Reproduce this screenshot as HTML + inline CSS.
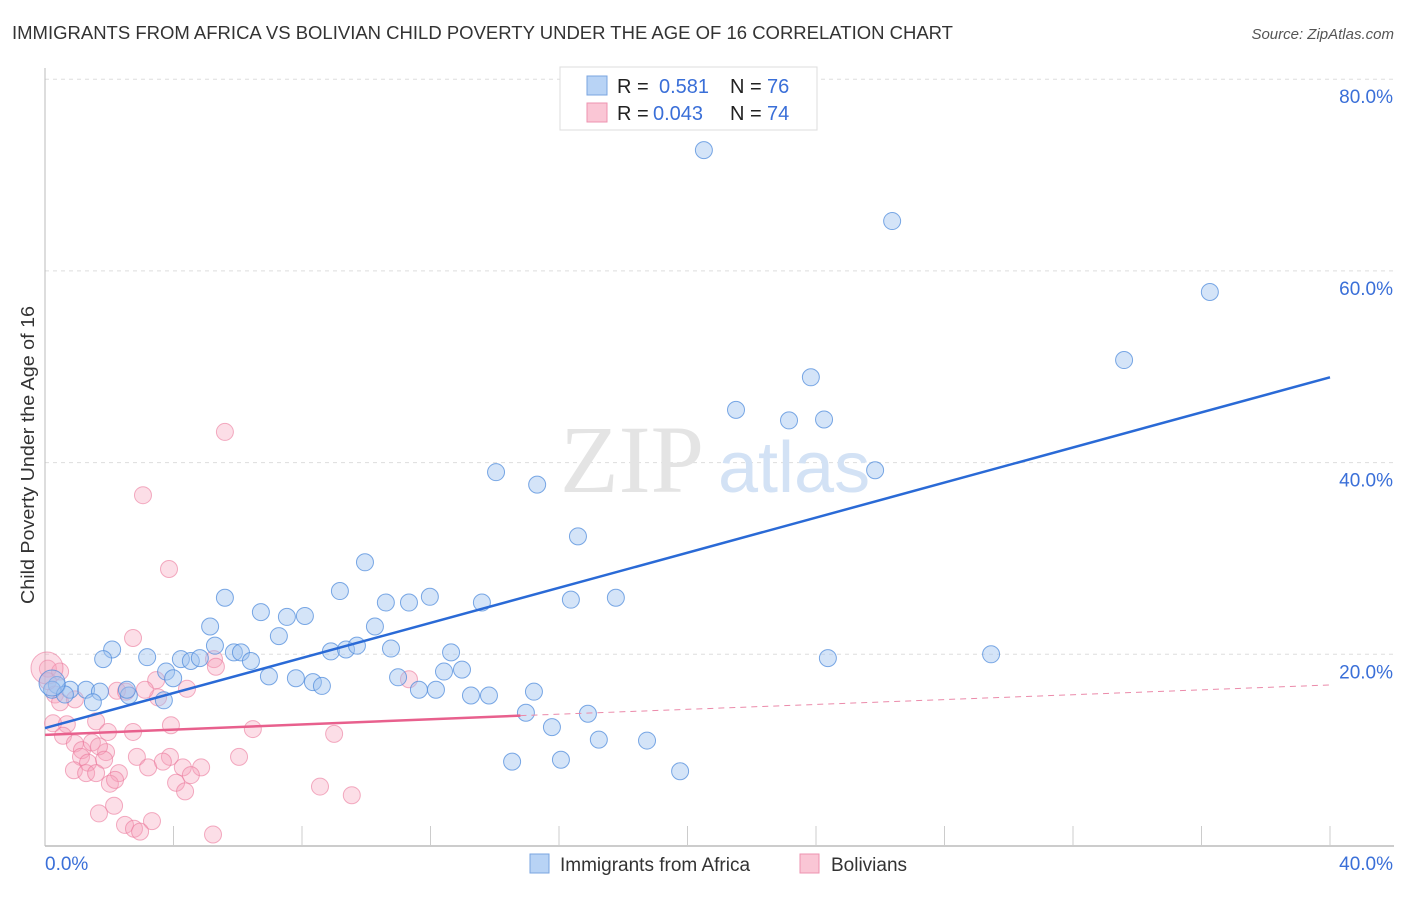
<!DOCTYPE html>
<html><head><meta charset="utf-8"><style>
body{margin:0;background:#fff;font-family:"Liberation Sans",sans-serif;}
svg text{font-family:"Liberation Sans",sans-serif;}
</style></head><body>
<svg id="chart" width="1406" height="892">
<text x="12" y="39" font-size="18" fill="#333" textLength="941" lengthAdjust="spacingAndGlyphs">IMMIGRANTS FROM AFRICA VS BOLIVIAN CHILD POVERTY UNDER THE AGE OF 16 CORRELATION CHART</text>
<text x="1394" y="39" font-size="15" fill="#555" font-style="italic" text-anchor="end">Source: ZipAtlas.com</text>
<text transform="translate(34,455) rotate(-90)" font-size="18" fill="#333" text-anchor="middle" textLength="298" lengthAdjust="spacingAndGlyphs">Child Poverty Under the Age of 16</text>
<g id="grid"></g>
<text x="560" y="492" font-size="96" fill="#e4e4e4" style="font-family:'Liberation Serif',serif">ZIP</text>
<text x="718" y="492" font-size="72" fill="#d3e2f5">atlas</text>
<g id="pts"></g>
<g id="lines"></g>
<g>
<rect x="560" y="67" width="257" height="63" fill="#fff" stroke="#ddd"/>
<rect x="587" y="76" width="20" height="19" fill="#b8d3f5" stroke="#7aa5e0"/>
<rect x="587" y="103" width="20" height="19" fill="#fac6d5" stroke="#ee93b0"/>
<text x="617" y="93" font-size="20" fill="#222">R =</text><text x="659" y="93" font-size="20" fill="#3a6fd8">0.581</text>
<text x="730" y="93" font-size="20" fill="#222">N =</text><text x="767" y="93" font-size="20" fill="#3a6fd8">76</text>
<text x="617" y="120" font-size="20" fill="#222">R =</text><text x="653" y="120" font-size="20" fill="#3a6fd8">0.043</text>
<text x="730" y="120" font-size="20" fill="#222">N =</text><text x="767" y="120" font-size="20" fill="#3a6fd8">74</text>
</g>
<g>
<rect x="530" y="854" width="19" height="19" fill="#b8d3f5" stroke="#7aa5e0"/>
<text x="560" y="871" font-size="19" fill="#333">Immigrants from Africa</text>
<rect x="800" y="854" width="19" height="19" fill="#fac6d5" stroke="#ee93b0"/>
<text x="831" y="871" font-size="19" fill="#333">Bolivians</text>
</g>
</svg>
<script>
const xTickVals=[0,40];
const yTickVals=[20,40,60,80];
const africaX=[20.51,26.37,36.26,33.59,23.84,21.51,23.16,24.25,25.84,14.04,15.32,16.59,9.96,5.6,6.72,9.18,7.53,8.09,10.61,11.33,11.98,13.6,16.37,17.77,5.14,7.28,10.27,5.29,2.09,1.81,3.18,4.23,4.54,4.82,5.88,6.1,6.41,8.9,9.37,9.71,10.77,12.64,12.98,12.42,24.37,29.45,3.77,3.99,6.97,7.81,8.34,8.62,10.99,11.64,12.17,13.26,13.82,15.22,0.37,0.78,1.28,1.71,0.22,0.62,1.49,2.61,3.7,14.97,16.9,15.78,17.24,18.74,14.54,16.06,19.77,2.55];
const africaY=[72.6,65.2,57.8,50.7,48.9,45.5,44.4,44.5,39.2,39.0,37.7,32.3,29.6,25.9,24.4,26.6,23.9,24.0,25.4,25.4,26.0,25.4,25.7,25.9,22.9,21.9,22.9,20.9,20.5,19.5,19.7,19.5,19.3,19.6,20.2,20.2,19.3,20.3,20.5,20.9,20.6,20.2,18.4,18.2,19.6,20.0,18.2,17.5,17.7,17.5,17.1,16.7,17.6,16.3,16.3,15.7,15.7,16.1,16.8,16.3,16.3,16.1,16.3,15.8,15.0,15.7,15.2,13.9,13.8,12.4,11.1,11.0,8.8,9.0,7.8,16.3];
const bolX=[5.6,3.05,3.86,2.74,5.26,5.32,0.09,2.24,2.52,3.46,4.42,0.31,0.47,0.93,11.33,3.52,0.25,0.68,1.59,3.92,1.96,2.74,6.47,9.0,0.56,0.93,1.15,1.46,1.9,1.68,1.12,1.34,1.84,2.86,3.89,6.04,3.21,3.67,4.29,4.86,4.54,0.9,1.28,1.59,2.3,8.56,9.55,2.02,2.18,4.08,4.36,1.68,2.15,2.49,3.33,2.77,2.96,5.23,0.09,0.47,3.11];
const bolY=[43.2,36.6,28.9,21.7,19.5,18.7,18.5,16.2,16.1,17.3,16.4,15.8,15.0,15.3,17.4,15.5,12.8,12.7,13.0,12.6,11.9,11.9,12.2,11.7,11.5,10.7,10.0,10.8,9.8,10.4,9.3,8.7,9.0,9.3,9.3,9.3,8.2,8.8,8.2,8.2,7.4,7.9,7.6,7.6,7.6,6.2,5.3,6.5,6.9,6.6,5.7,3.4,4.2,2.2,2.6,1.8,1.5,1.2,17.2,18.2,16.3];
const africaLine=[[0,12.3],[40,48.9]];
const bolLine=[[0,11.6],[14.8,13.6],[40,16.8]];
const NS="http://www.w3.org/2000/svg";
const X0=45,X1=1330,Y0=846,YS=9.585;
const xs=v=>X0+(X1-X0)*v/40, ys=v=>Y0-v*YS;
function mk(t,a,p){const e=document.createElementNS(NS,t);for(const k in a)e.setAttribute(k,a[k]);p.appendChild(e);return e;}
const grid=document.getElementById('grid');
yTickVals.forEach(v=>{
 const l=mk('line',{x1:45,x2:1394,y1:ys(v),y2:ys(v),stroke:'#ddd','stroke-dasharray':'4,4'},grid);
 
 
 const t=mk('text',{x:1393,y:ys(v)+24,'font-size':19,fill:'#3a6fd8','text-anchor':'end'},grid);t.textContent=v.toFixed(1)+'%';
 
 
});
mk('line',{x1:45,x2:45,y1:68,y2:846,stroke:'#bbb'},grid);
const ax=mk('line',{x1:45,x2:1394,y1:846,y2:846,stroke:'#bbb','stroke-width':1.5},grid);


for(let i=1;i<=10;i++){mk('line',{x1:xs(i*4),x2:xs(i*4),y1:826,y2:846,stroke:'#ccc'},grid);}
xTickVals.forEach((v,i)=>{const t=mk('text',{x:i?1393:45,y:870,'font-size':19,fill:'#3a6fd8','text-anchor':i?'end':'start'},grid);t.textContent=v.toFixed(1)+'%';
 
 });
const pts=document.getElementById('pts');
bolX.forEach((x,i)=>{const c=mk('circle',{cx:xs(x),cy:ys(bolY[i]),r:8.5,fill:'rgba(245,160,185,0.35)',stroke:'rgba(235,120,155,0.6)'},pts);
 
 });
mk('circle',{cx:47,cy:668,r:16,fill:'rgba(245,160,185,0.35)',stroke:'rgba(235,120,155,0.6)'},pts);
africaX.forEach((x,i)=>{const c=mk('circle',{cx:xs(x),cy:ys(africaY[i]),r:8.5,fill:'rgba(160,195,240,0.45)',stroke:'rgba(80,140,220,0.75)'},pts);
 
 });
mk('circle',{cx:52,cy:683,r:13,fill:'rgba(160,195,240,0.45)',stroke:'rgba(80,140,220,0.75)'},pts);
const lines=document.getElementById('lines');
const bl=mk('line',{x1:xs(africaLine[0][0]),y1:ys(africaLine[0][1]),x2:xs(africaLine[1][0]),y2:ys(africaLine[1][1]),stroke:'#2a6ad6','stroke-width':2.5},lines);


const pl=mk('line',{x1:xs(bolLine[0][0]),y1:ys(bolLine[0][1]),x2:xs(bolLine[1][0]),y2:ys(bolLine[1][1]),stroke:'#e8608d','stroke-width':2.5},lines);


const pd=mk('line',{x1:xs(bolLine[1][0]),y1:ys(bolLine[1][1]),x2:xs(bolLine[2][0]),y2:ys(bolLine[2][1]),stroke:'#eb8aaa','stroke-width':1,'stroke-dasharray':'6,5'},lines);


</script>
</body></html>
